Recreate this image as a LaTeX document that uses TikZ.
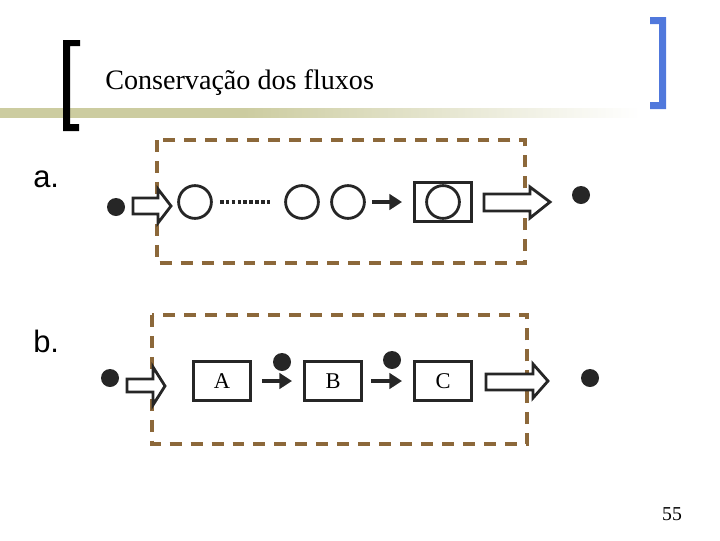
\documentclass[tikz,border=0pt]{standalone}
\usepackage{fontspec}
\setmainfont{Liberation Serif}
\newfontfamily\labelfont{Liberation Sans}
\usetikzlibrary{positioning}
\usetikzlibrary{arrows.meta}

\definecolor{barolive}{RGB}{204,204,160}
\definecolor{bracketblue}{RGB}{80,120,220}
\definecolor{boxbrown}{RGB}{140,104,58}
\definecolor{inkgray}{RGB}{38,38,38}
\pgfdeclarehorizontalshading{titlebar}{100bp}{color(0bp)=(barolive); color(25bp)=(barolive); color(44bp)=(barolive); color(75bp)=(white); color(100bp)=(white)}

\begin{document}
\begin{tikzpicture}[x=0.025cm,y=-0.025cm,
  dot/.style={circle,fill=inkgray,inner sep=0pt,minimum size=0.45cm},
  ring/.style={circle,draw=inkgray,line width=2pt,inner sep=0pt,minimum size=0.82cm},
  stagebox/.style={draw=inkgray,line width=2pt,minimum width=1.43cm,minimum height=0.97cm,inner sep=0pt,font=\fontsize{16}{18}\selectfont},
  flow/.style={draw=inkgray,line width=2.6pt,-{Triangle[length=9pt,width=11pt]}},
  blockarrow/.style={draw=inkgray,line width=2pt,fill=white,line join=miter},
  boundary/.style={draw=boxbrown,line width=2.5pt,dash pattern=on 8.5pt off 6.4pt},
  partlabel/.style={anchor=base west,inner sep=0pt,font=\labelfont\fontsize{22}{26}\selectfont}]
 \useasboundingbox (0,0) rectangle (720,540);
 \shade[shading=titlebar] (0,108) rectangle (640,117);
 \fill[black] (63,40) rectangle (70,131) (63,40) rectangle (80,46) (63,124) rectangle (79,131);
 \fill[bracketblue] (659,17) rectangle (666,109) (650,17) rectangle (666,24) (650,102) rectangle (666,109);
 \node[anchor=base west,inner sep=0pt,font=\fontsize{20}{24}\selectfont] (title) at (105,89) {Conservação dos fluxos};

 \node[partlabel] (parta) at (33,187) {a.};
 \draw[boundary] (157,140) rectangle (525,263);
 \node[dot] (ain) at (116,207) {};
 \draw[blockarrow] (133,198) -- (158,198) -- (158,189) -- (171,206) -- (158,223) -- (158,214) -- (133,214) -- cycle;
 \node[ring] (a1) at (195,202) {};
 \node[ring] (a2) at (302,202) {};
 \node[ring] (a3) at (348,202) {};
 \node[stagebox] (abox) at (443,202) {};
 \node[ring] (a4) at (abox.center) {};
 \draw[draw=inkgray,line width=2.2pt,dash pattern=on 2.6pt off 1.6pt,shorten <=5pt,shorten >=10pt] (a1) -- (a2);
 \draw[flow,shorten <=4.4pt,shorten >=7.8pt] (a3) -- (abox);
 \draw[blockarrow] (484,194) -- (530,194) -- (530,187) -- (550,202) -- (530,218) -- (530,211) -- (484,211) -- cycle;
 \node[dot] (aout) at (581,195) {};

 \node[partlabel] (partb) at (33,352) {b.};
 \draw[boundary] (152,315) rectangle (527,444);
 \node[dot] (bin) at (110,378) {};
 \draw[blockarrow] (127,379) -- (153,379) -- (153,367) -- (165,386) -- (153,405) -- (153,392) -- (127,392) -- cycle;
 \node[stagebox] (A) at (222,381) {A};
 \node[stagebox] (B) at (333,381) {B};
 \node[stagebox] (C) at (443,381) {C};
 \draw[flow,shorten <=7pt,shorten >=7.8pt] (A) -- (B);
 \draw[flow,shorten <=5.7pt,shorten >=7.8pt] (B) -- (C);
 \node[dot] (ab) at (282,362) {};
 \node[dot] (bc) at (392,360) {};
 \draw[blockarrow] (486,374) -- (533,374) -- (533,364) -- (548,381) -- (533,398) -- (533,390) -- (486,390) -- cycle;
 \node[dot] (bout) at (590,378) {};

 \node[font=\fontsize{14}{16}\selectfont] (pagenum) at (672,514) {55};
\end{tikzpicture}
\end{document}
